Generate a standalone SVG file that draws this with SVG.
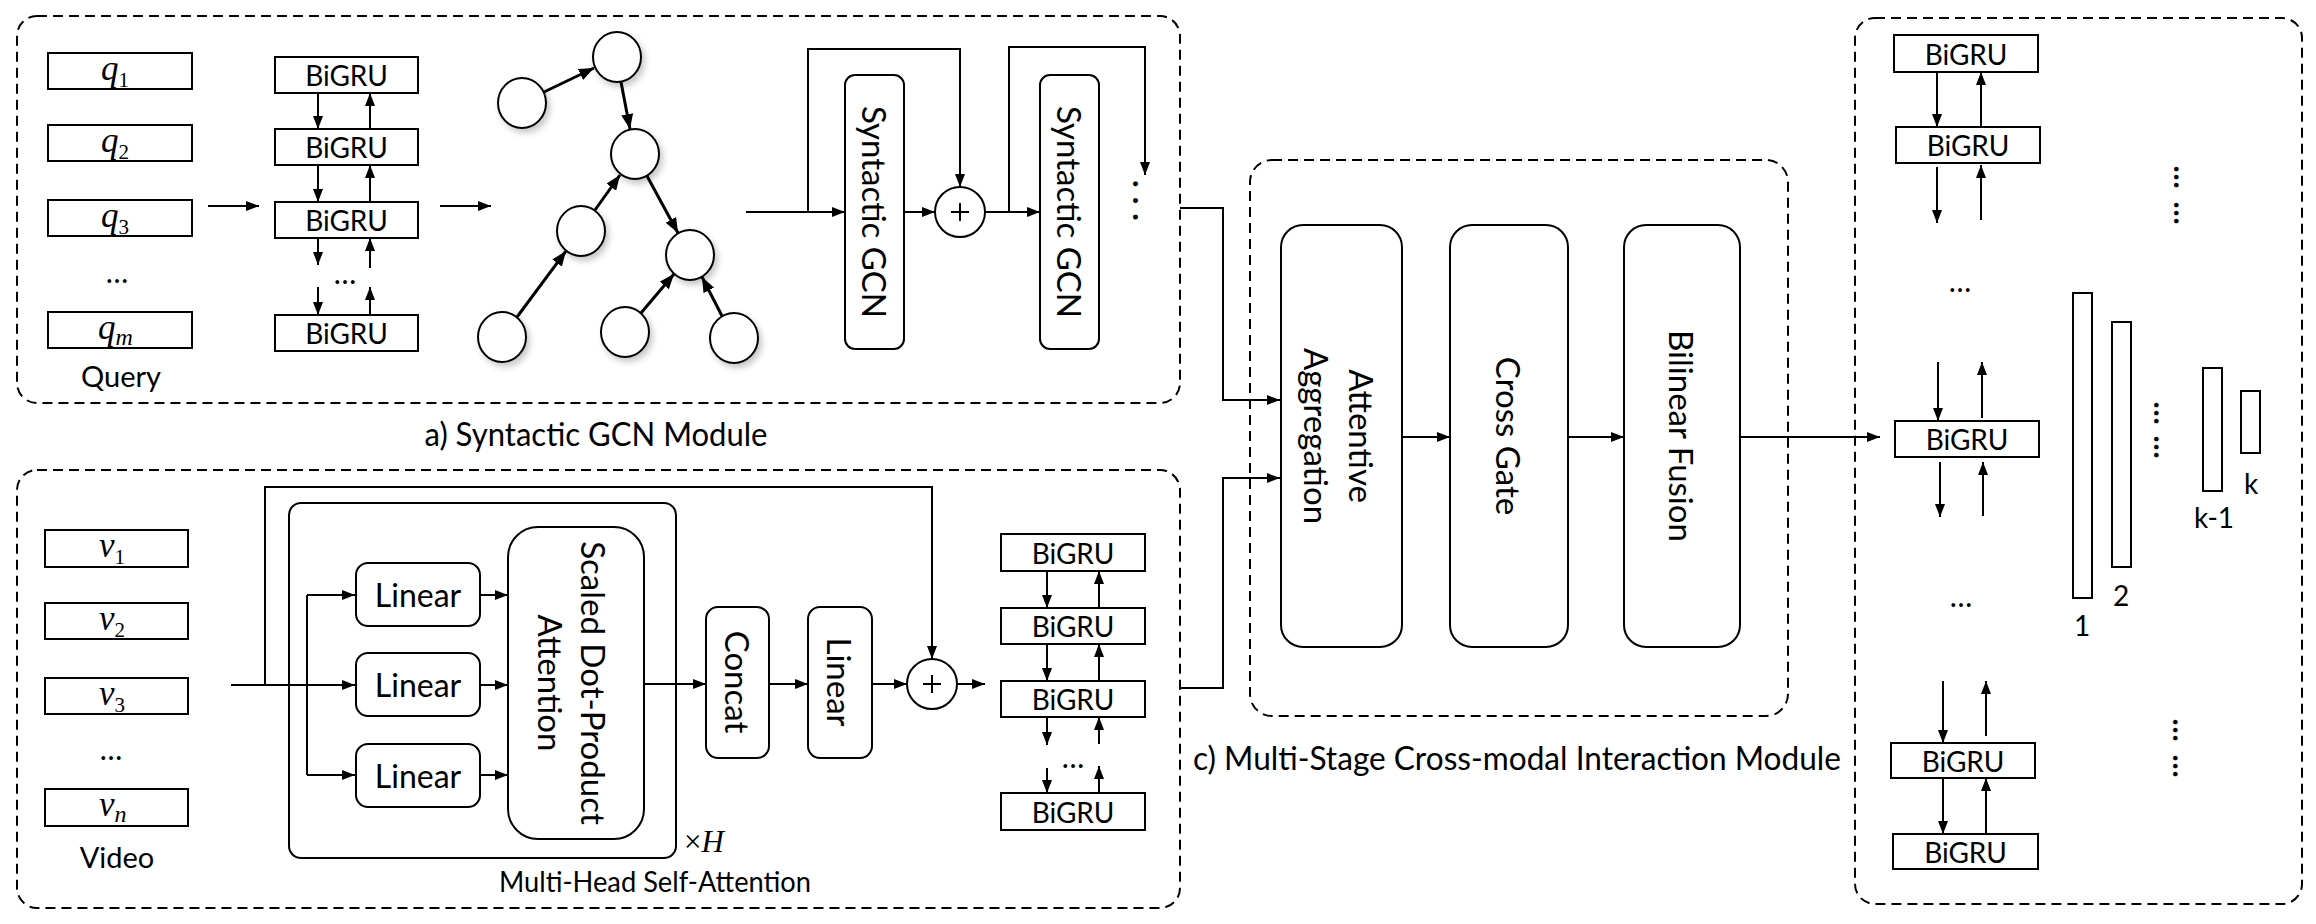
<svg xmlns="http://www.w3.org/2000/svg" width="2316" height="924" viewBox="0 0 2316 924">
<defs>
<marker id="ah" markerWidth="13" markerHeight="10" refX="13" refY="5" orient="auto" markerUnits="userSpaceOnUse"><path d="M0,0 L13,5 L0,10 z" fill="#000"/></marker>
<marker id="ahb" markerWidth="15" markerHeight="12" refX="15" refY="6" orient="auto" markerUnits="userSpaceOnUse"><path d="M0,0 L15,6 L0,12 z" fill="#000"/></marker>
<filter id="sh" x="-40%" y="-40%" width="190%" height="190%"><feDropShadow dx="3" dy="4" stdDeviation="3" flood-color="#000" flood-opacity="0.22"/></filter>
<style>
.box{fill:#fff;stroke:#000;stroke-width:2}
.dash{fill:none;stroke:#000;stroke-width:2;stroke-dasharray:10 6}
.ln{fill:none;stroke:#000;stroke-width:2}
.ar{fill:none;stroke:#000;stroke-width:2;marker-end:url(#ah)}
.te{fill:none;stroke:#000;stroke-width:3;marker-end:url(#ahb)}
.nd{fill:#fff;stroke:#000;stroke-width:2;filter:url(#sh)}
.f{font-family:Lato,"Liberation Sans",sans-serif;fill:#000}
.c{text-anchor:middle;dominant-baseline:central}
.m{font-family:"Liberation Serif",serif;font-style:italic;fill:#000}
.g{font-size:28px}
.v{font-size:33px}
.h{font-size:32px}
</style>
</defs>

<g id="module-a">
<rect class="dash" x="17" y="16" width="1163" height="387" rx="20"/>
<text class="f" x="596" y="446" font-size="32" text-anchor="middle" textLength="343" lengthAdjust="spacingAndGlyphs">a) Syntactic GCN Module</text>
</g>
<g id="module-b">
<rect class="dash" x="17" y="470" width="1163" height="438" rx="20"/>
</g>
<g id="module-c">
<rect class="dash" x="1250" y="160" width="538" height="556" rx="22"/>
<text class="f" x="1517" y="770" font-size="32" text-anchor="middle" textLength="648" lengthAdjust="spacingAndGlyphs">c) Multi-Stage Cross-modal Interaction Module</text>
</g>
<g id="module-d">
<rect class="dash" x="1855" y="18" width="447" height="886" rx="20"/>
</g>

<g id="query">
<rect class="box" x="48" y="53" width="144" height="36"/>
<text class="m" x="101" y="80" font-size="35">q<tspan font-style="normal" font-size="21" dy="7">1</tspan></text>
<rect class="box" x="48" y="125" width="144" height="36"/>
<text class="m" x="101" y="152" font-size="35">q<tspan font-style="normal" font-size="21" dy="7">2</tspan></text>
<rect class="box" x="48" y="200" width="144" height="36"/>
<text class="m" x="101" y="227" font-size="35">q<tspan font-style="normal" font-size="21" dy="7">3</tspan></text>
<text class="f" x="117" y="283" font-size="30" text-anchor="middle">…</text>
<rect class="box" x="48" y="312" width="144" height="36"/>
<text class="m" x="98" y="339" font-size="35">q<tspan font-size="24" dy="6">m</tspan></text>
<text class="f" x="121" y="387" font-size="29" text-anchor="middle">Query</text>
</g>

<g id="query-bigru">
<rect class="box" x="275" y="57" width="143" height="36"/>
<text class="f c g" x="346.5" y="75">BiGRU</text>
<rect class="box" x="275" y="129" width="143" height="36"/>
<text class="f c g" x="346.5" y="147">BiGRU</text>
<rect class="box" x="275" y="202" width="143" height="36"/>
<text class="f c g" x="346.5" y="220">BiGRU</text>
<text class="f" x="345" y="284" font-size="30" text-anchor="middle">…</text>
<rect class="box" x="275" y="315" width="143" height="36"/>
<text class="f c g" x="346.5" y="333">BiGRU</text>
</g>

<g id="tree">
<ellipse class="nd" cx="617" cy="57" rx="24" ry="25"/>
<ellipse class="nd" cx="522" cy="103" rx="24" ry="25"/>
<ellipse class="nd" cx="635" cy="154" rx="24" ry="25"/>
<ellipse class="nd" cx="581" cy="231" rx="24" ry="25"/>
<ellipse class="nd" cx="690" cy="255" rx="24" ry="25"/>
<ellipse class="nd" cx="502" cy="337" rx="24" ry="25"/>
<ellipse class="nd" cx="625" cy="332" rx="24" ry="25"/>
<ellipse class="nd" cx="734" cy="338" rx="24" ry="25"/>
</g>

<g id="gcn1">
<rect class="box" x="845" y="75" width="59" height="274" rx="10"/>
<text class="f c v" transform="translate(874.5 212) rotate(90)">Syntactic GCN</text>
</g>
<g id="sum1">
<circle class="box" cx="960" cy="212" r="25"/>
<path class="ln" d="M951,212 H969 M960,203 V221"/>
</g>
<g id="gcn2">
<rect class="box" x="1040" y="75" width="59" height="274" rx="10"/>
<text class="f c v" transform="translate(1069.5 212) rotate(90)">Syntactic GCN</text>
<text class="f" font-size="32" font-weight="bold" text-anchor="middle" letter-spacing="9" transform="translate(1133 205) rotate(90)">...</text>
</g>

<g id="video">
<rect class="box" x="45" y="530" width="143" height="37"/>
<text class="m" x="99" y="557" font-size="35">v<tspan font-style="normal" font-size="21" dy="7">1</tspan></text>
<rect class="box" x="45" y="603" width="143" height="36"/>
<text class="m" x="99" y="630" font-size="35">v<tspan font-style="normal" font-size="21" dy="7">2</tspan></text>
<rect class="box" x="45" y="678" width="143" height="36"/>
<text class="m" x="99" y="705" font-size="35">v<tspan font-style="normal" font-size="21" dy="7">3</tspan></text>
<text class="f" x="111" y="760" font-size="30" text-anchor="middle">…</text>
<rect class="box" x="45" y="789" width="143" height="37"/>
<text class="m" x="99" y="816" font-size="35">v<tspan font-size="24" dy="6">n</tspan></text>
<text class="f" x="117" y="868" font-size="29" text-anchor="middle">Video</text>
</g>

<g id="mhsa">
<rect class="box" x="289" y="503" width="387" height="355" rx="12"/>
<text class="f" x="655" y="892" font-size="29" text-anchor="middle" textLength="312" lengthAdjust="spacingAndGlyphs">Multi-Head Self-Attention</text>
<text x="684" y="852" font-family="Liberation Serif, serif" font-size="31">×<tspan font-style="italic">H</tspan></text>
</g>
<g id="linear1">
<rect class="box" x="356" y="563" width="124" height="63" rx="12"/>
<text class="f c h" x="418" y="594.5">Linear</text>
</g>
<g id="linear2">
<rect class="box" x="356" y="653" width="124" height="63" rx="12"/>
<text class="f c h" x="418" y="684.5">Linear</text>
</g>
<g id="linear3">
<rect class="box" x="356" y="744" width="124" height="63" rx="12"/>
<text class="f c h" x="418" y="775.5">Linear</text>
</g>
<g id="sdpa">
<rect class="box" x="508" y="527" width="136" height="312" rx="30"/>
<text class="f c v" transform="translate(573 683) rotate(90)"><tspan x="0" dy="-21">Scaled Dot-Product</tspan><tspan x="0" dy="43">Attention</tspan></text>
</g>
<g id="concat">
<rect class="box" x="706" y="607" width="63" height="151" rx="12"/>
<text class="f c v" transform="translate(737.5 682) rotate(90)">Concat</text>
</g>
<g id="linear4">
<rect class="box" x="808" y="607" width="64" height="151" rx="12"/>
<text class="f c v" transform="translate(840 682) rotate(90)">Linear</text>
</g>
<g id="sum2">
<circle class="box" cx="932" cy="684" r="25"/>
<path class="ln" d="M923,684 H941 M932,675 V693"/>
</g>

<g id="video-bigru">
<rect class="box" x="1001" y="534" width="144" height="37"/>
<text class="f c g" x="1073" y="552.5">BiGRU</text>
<rect class="box" x="1001" y="608" width="144" height="36"/>
<text class="f c g" x="1073" y="626">BiGRU</text>
<rect class="box" x="1001" y="681" width="144" height="36"/>
<text class="f c g" x="1073" y="699">BiGRU</text>
<text class="f" x="1073" y="768" font-size="30" text-anchor="middle">…</text>
<rect class="box" x="1001" y="793" width="144" height="37"/>
<text class="f c g" x="1073" y="811.5">BiGRU</text>
</g>

<g id="attentive">
<rect class="box" x="1281" y="225" width="121" height="422" rx="22"/>
<text class="f c v" transform="translate(1340 436) rotate(90)"><tspan x="0" dy="-22">Attentive</tspan><tspan x="0" dy="45">Aggregation</tspan></text>
</g>
<g id="crossgate">
<rect class="box" x="1450" y="225" width="118" height="422" rx="22"/>
<text class="f c v" transform="translate(1509 436) rotate(90)">Cross Gate</text>
</g>
<g id="bilinear">
<rect class="box" x="1624" y="225" width="116" height="422" rx="22"/>
<text class="f c v" transform="translate(1682 436) rotate(90)">Bilinear Fusion</text>
</g>

<g id="out-bigru">
<rect class="box" x="1894" y="35" width="144" height="37"/>
<text class="f c g" x="1966" y="53.5">BiGRU</text>
<rect class="box" x="1896" y="127" width="144" height="36"/>
<text class="f c g" x="1968" y="145">BiGRU</text>
<text class="f" x="1960" y="292" font-size="30" text-anchor="middle">…</text>
<rect class="box" x="1895" y="421" width="144" height="36"/>
<text class="f c g" x="1967" y="439">BiGRU</text>
<text class="f" x="1961" y="607" font-size="30" text-anchor="middle">…</text>
<rect class="box" x="1891" y="743" width="144" height="35"/>
<text class="f c g" x="1963" y="760.5">BiGRU</text>
<rect class="box" x="1893" y="834" width="145" height="35"/>
<text class="f c g" x="1965.5" y="851.5">BiGRU</text>
</g>

<g id="proposals">
<rect class="box" x="2073" y="293" width="19" height="305"/>
<text class="f" x="2082" y="636" font-size="28" text-anchor="middle">1</text>
<rect class="box" x="2112" y="322" width="19" height="245"/>
<text class="f" x="2121" y="606" font-size="28" text-anchor="middle">2</text>
<rect class="box" x="2203" y="368" width="19" height="123"/>
<text class="f" x="2214" y="528" font-size="28" text-anchor="middle">k-1</text>
<rect class="box" x="2241" y="391" width="19" height="62"/>
<text class="f" x="2251" y="494" font-size="28" text-anchor="middle">k</text>
<text class="f c" font-size="30" font-weight="bold" transform="translate(2186 177) rotate(90)">…</text>
<text class="f c" font-size="30" font-weight="bold" transform="translate(2186 213) rotate(90)">…</text>
<text class="f c" font-size="30" font-weight="bold" transform="translate(2166 413) rotate(90)">…</text>
<text class="f c" font-size="30" font-weight="bold" transform="translate(2166 447) rotate(90)">…</text>
<text class="f c" font-size="30" font-weight="bold" transform="translate(2185 730) rotate(90)">…</text>
<text class="f c" font-size="30" font-weight="bold" transform="translate(2185 766) rotate(90)">…</text>
</g>

<g id="connectors">
<path class="ar" d="M208,206 H259"/>
<path class="ar" d="M318,93 V129"/><path class="ar" d="M370,129 V93"/>
<path class="ar" d="M318,165 V202"/><path class="ar" d="M370,202 V165"/>
<path class="ar" d="M318,238 V265"/><path class="ar" d="M370,268 V238"/>
<path class="ar" d="M318,287 V315"/><path class="ar" d="M370,315 V287"/>
<path class="ar" d="M440,206 H491"/>
<path class="te" d="M544,92 L594,68"/>
<path class="te" d="M621,82 L630,129"/>
<path class="te" d="M595,210 L620,175"/>
<path class="te" d="M647,176 L678,233"/>
<path class="te" d="M517,317 L566,251"/>
<path class="te" d="M641,313 L674,274"/>
<path class="te" d="M722,316 L702,277"/>
<path class="ar" d="M746,212 H845"/>
<path class="ar" d="M808,212 V49 H960 V187"/>
<path class="ar" d="M904,212 H935"/>
<path class="ar" d="M985,212 H1040"/>
<path class="ar" d="M1009,212 V47 H1145 V175"/>
<path class="ar" d="M1180,208 H1223 V400 H1280"/>
<path class="ar" d="M1180,688 H1223 V478 H1280"/>
<path class="ar" d="M231,685 H355"/>
<path class="ar" d="M265,685 V487 H932 V659"/>
<path class="ln" d="M307,595 V775"/>
<path class="ar" d="M307,595 H355"/>
<path class="ar" d="M307,775 H355"/>
<path class="ar" d="M480,595 H508"/>
<path class="ar" d="M480,685 H508"/>
<path class="ar" d="M480,775 H508"/>
<path class="ar" d="M644,684 H706"/>
<path class="ar" d="M769,684 H808"/>
<path class="ar" d="M872,684 H907"/>
<path class="ar" d="M957,684 H985"/>
<path class="ar" d="M1047,571 V608"/><path class="ar" d="M1099,608 V571"/>
<path class="ar" d="M1047,644 V681"/><path class="ar" d="M1099,681 V644"/>
<path class="ar" d="M1047,717 V745"/><path class="ar" d="M1099,744 V717"/>
<path class="ar" d="M1047,768 V793"/><path class="ar" d="M1099,793 V766"/>
<path class="ar" d="M1402,437 H1450"/>
<path class="ar" d="M1568,437 H1624"/>
<path class="ar" d="M1740,437 H1880"/>
<path class="ar" d="M1937,72 V127"/><path class="ar" d="M1981,127 V72"/>
<path class="ar" d="M1937,167 V223"/><path class="ar" d="M1981,220 V165"/>
<path class="ar" d="M1938,362 V421"/><path class="ar" d="M1982,418 V362"/>
<path class="ar" d="M1940,462 V517"/><path class="ar" d="M1983,516 V462"/>
<path class="ar" d="M1943,681 V743"/><path class="ar" d="M1986,736 V681"/>
<path class="ar" d="M1943,778 V834"/><path class="ar" d="M1986,834 V778"/>
</g>
</svg>
